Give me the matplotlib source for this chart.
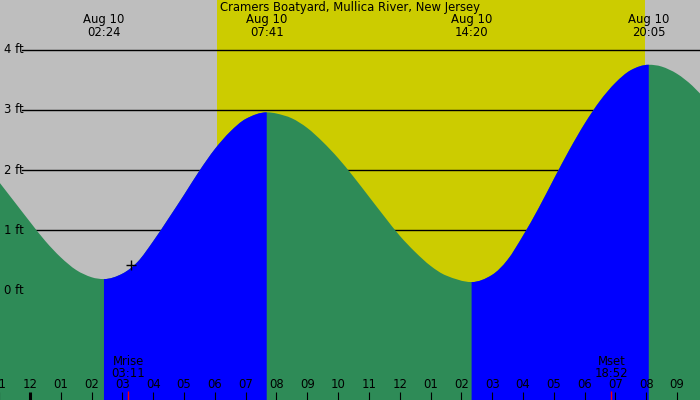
import matplotlib
matplotlib.use("Agg")
import matplotlib.pyplot as plt
from matplotlib.path import Path
from matplotlib.patches import PathPatch

NIGHT = "#bebebe"; DAY = "#cccc00"; FALL = "#2e8b57"; RISE = "#0000ff"

title = "Cramers Boatyard, Mullica River, New Jersey"

# tide height (ft), hours from midnight Aug 10
hours = [-1.0, -0.5, 0.0, 0.5, 1.0, 1.5, 2.0, 2.4,
         3.0, 3.5, 4.0, 4.5, 5.0, 5.5, 6.0, 6.5, 7.0, 7.683,
         8.0, 8.5, 9.0, 9.5, 10.0, 10.5, 11.0, 11.5, 12.0, 12.5, 13.0, 13.5, 14.333,
         15.0, 15.5, 16.0, 16.5, 17.0, 17.5, 18.0, 18.5, 19.0, 19.5, 20.083,
         20.5, 21.0, 21.5, 22.0]
feet = [1.80, 1.47, 1.14, 0.82, 0.55, 0.34, 0.22, 0.19,
        0.28, 0.48, 0.82, 1.20, 1.59, 1.99, 2.35, 2.64, 2.85, 2.96,
        2.94, 2.86, 2.70, 2.47, 2.20, 1.89, 1.56, 1.23, 0.91, 0.64, 0.41, 0.25, 0.14,
        0.26, 0.51, 0.91, 1.36, 1.85, 2.33, 2.77, 3.15, 3.45, 3.66, 3.75,
        3.72, 3.60, 3.40, 3.13]

ext_hours = [2.4, 7.683, 14.333, 20.083]
ext_times = ["02:24", "07:41", "14:20", "20:05"]
ext_date = "Aug 10"

sunrise, sunset = 6.08, 19.96
moon_hours = [3.183, 18.867]
moon_names = ["Mrise", "Mset"]
moon_times = ["03:11", "18:52"]
mark_hour, mark_ft = 3.28, 0.42

ft_levels = [0, 1, 2, 3, 4]
tick_hours = list(range(-1, 22))

x0, x1 = -0.974, 21.746
y0, y1 = -1.819, 4.826
fs = 8.4

fig = plt.figure(figsize=(7, 4), dpi=100, facecolor=NIGHT)
ax = fig.add_axes([0, 0, 1, 1])
ax.set_xlim(x0, x1); ax.set_ylim(y0, y1)
ax.set_axis_off()

ax.axvspan(sunrise, sunset, color=DAY, lw=0, zorder=0)

for lv in ft_levels:
    ax.axhline(lv, xmin=0.031, xmax=1, color="black", lw=1.0, zorder=1)
    ax.text(x0 + 0.12, lv, f"{lv} ft", ha="left", va="center", fontsize=fs, zorder=4)

# smooth curve through the readings (cubic Hermite, flat at high/low water)
n = len(hours)
slope = []
for i in range(n):
    if hours[i] in ext_hours:
        slope.append(0.0)
    else:
        a, b = max(i - 1, 0), min(i + 1, n - 1)
        slope.append((feet[b] - feet[a]) / (hours[b] - hours[a]))

def tide_patch(i0, i1, color):
    verts = [(hours[i0], feet[i0])]
    codes = [Path.MOVETO]
    for i in range(i0, i1):
        dx = hours[i + 1] - hours[i]
        verts += [(hours[i] + dx / 3, feet[i] + slope[i] * dx / 3),
                  (hours[i + 1] - dx / 3, feet[i + 1] - slope[i + 1] * dx / 3),
                  (hours[i + 1], feet[i + 1])]
        codes += [Path.CURVE4] * 3
    verts += [(hours[i1], y0 - 1), (hours[i0], y0 - 1), (hours[i0], feet[i0])]
    codes += [Path.LINETO, Path.LINETO, Path.CLOSEPOLY]
    ax.add_patch(PathPatch(Path(verts, codes), fc=color, ec="none", lw=0, zorder=2))

cuts = [0] + [hours.index(h) for h in ext_hours] + [n - 1]
tide_patch(0, n - 1, FALL)
for a, b in zip(cuts[:-1], cuts[1:]):
    if feet[b] > feet[a]:
        tide_patch(a, b, RISE)

ax.plot([mark_hour], [mark_ft], marker="+", color="black", ms=7, mew=1.0, zorder=4)

tr = ax.get_xaxis_transform()
ax.text((x0 + x1) / 2, 0.9825, title, transform=tr, ha="center", va="center", fontsize=fs, zorder=4)
for h, t in zip(ext_hours, ext_times):
    ax.text(h, 0.95, ext_date, transform=tr, ha="center", va="center", fontsize=fs, zorder=4)
    ax.text(h, 0.92, t, transform=tr, ha="center", va="center", fontsize=fs, zorder=4)

for h in tick_hours:
    lab = f"{(h % 12) or 12:02d}"
    ax.text(h, 0.0375, lab, transform=tr, ha="center", va="center", fontsize=fs, zorder=4)
    ax.plot([h, h], [0, 0.02], transform=tr, color="black",
            lw=2.2 if h % 24 == 0 else 0.8, solid_capstyle="butt", zorder=4)

for h, nm, t in zip(moon_hours, moon_names, moon_times):
    ax.plot([h, h], [0, 0.022], transform=tr, color="red", lw=1.0, solid_capstyle="butt", zorder=5)
    ax.text(h, 0.097, nm, transform=tr, ha="center", va="center", fontsize=fs, zorder=4)
    ax.text(h, 0.067, t, transform=tr, ha="center", va="center", fontsize=fs, zorder=4)

fig.savefig("out.png", dpi=100, facecolor=NIGHT)
